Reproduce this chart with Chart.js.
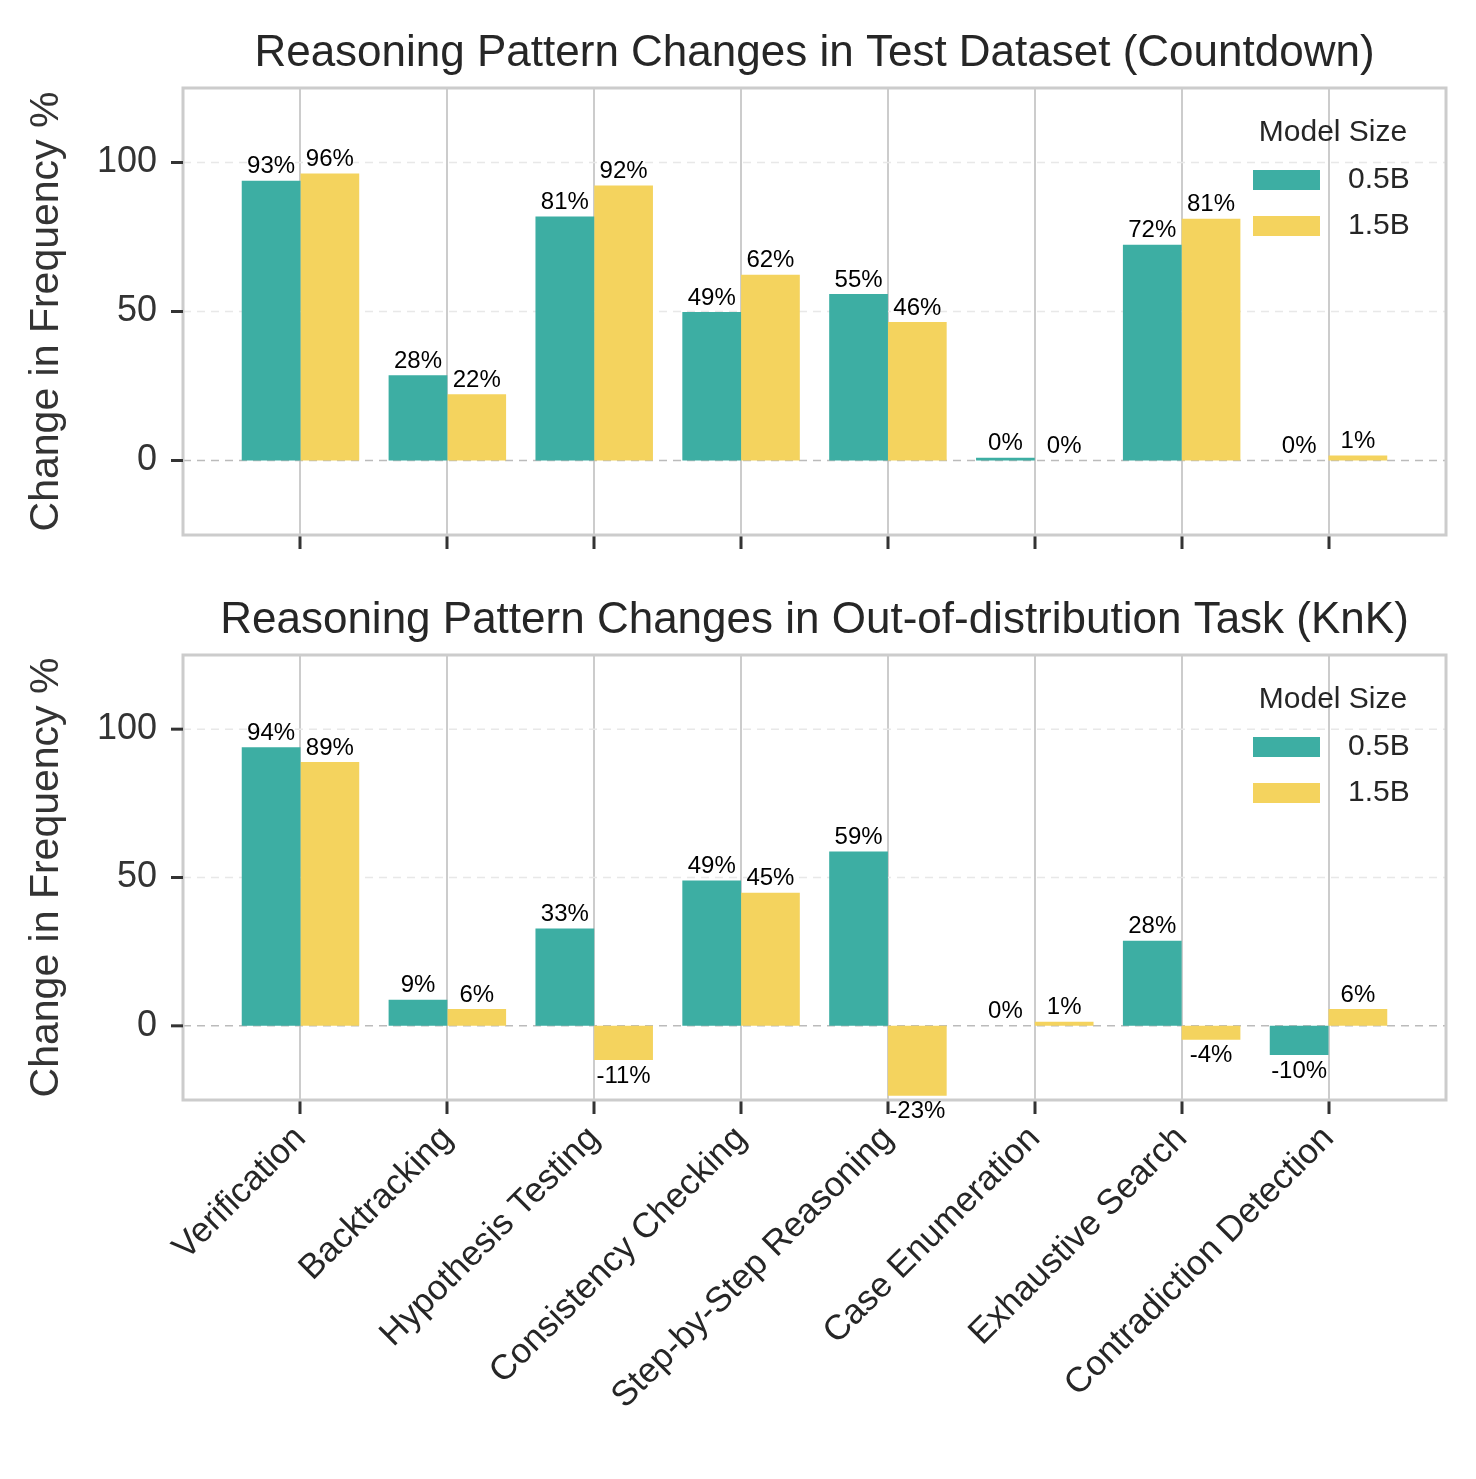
<!DOCTYPE html>
<html><head><meta charset="utf-8">
<script src="https://cdn.jsdelivr.net/npm/chart.js@4/dist/chart.umd.min.js"></script>
<style>
body{margin:0;background:#fff;width:1476px;height:1479px;position:relative;overflow:hidden}
canvas{position:absolute;left:0}
</style></head><body>
<canvas id="top" width="1476" height="570" style="top:0"></canvas>
<canvas id="bot" width="1476" height="909" style="top:570px"></canvas>
<script>
// categories and values
const categories = ['Verification','Backtracking','Hypothesis Testing','Consistency Checking','Step-by-Step Reasoning','Case Enumeration','Exhaustive Search','Contradiction Detection'];
const topSmall = [93.9, 28.6, 81.9, 49.8, 55.9, 0.9, 72.4, 0];
const topLarge = [96.3, 22.2, 92.3, 62.3, 46.5, 0, 81.1, 1.7];
const topSmallLbl = ['93%','28%','81%','49%','55%','0%','72%','0%'];
const topLargeLbl = ['96%','22%','92%','62%','46%','0%','81%','1%'];
const botSmall = [93.9, 8.8, 32.8, 49.0, 58.8, 0, 28.7, -9.8];
const botLarge = [88.9, 5.7, -11.5, 44.9, -23.6, 1.4, -4.7, 5.7];
const botSmallLbl = ['94%','9%','33%','49%','59%','0%','28%','-10%'];
const botLargeLbl = ['89%','6%','-11%','45%','-23%','1%','-4%','6%'];
const yTicks = [0, 50, 100];
const seriesNames = ['0.5B','1.5B'];
const colors = ['#3DAEA3','#F4D35E'];
const FONT = "'Liberation Sans', Arial, sans-serif";

function extras(title, labels){
  return {
    id:'extras',
    beforeDatasetsDraw(c){
      const a=c.chartArea, y=c.scales.y, ctx=c.ctx;
      ctx.save();
      ctx.setLineDash([8,6]); ctx.lineWidth=1.5;
      yTicks.forEach(t=>{
        const py=y.getPixelForValue(t);
        ctx.strokeStyle = t===0 ? '#bbb' : '#e8e8e8';
        ctx.beginPath(); ctx.moveTo(a.left,py); ctx.lineTo(a.right,py); ctx.stroke();
      });
      ctx.restore();
    },
    afterDraw(c){
      const a=c.chartArea, y=c.scales.y, ctx=c.ctx;
      ctx.save();
      ctx.strokeStyle='#ccc'; ctx.lineWidth=3;
      ctx.strokeRect(a.left,a.top,a.right-a.left,a.bottom-a.top);
      ctx.strokeStyle='#333'; ctx.lineWidth=3;
      ctx.fillStyle='#333'; ctx.font='36px '+FONT; ctx.textAlign='right'; ctx.textBaseline='middle';
      yTicks.forEach(t=>{
        const py=y.getPixelForValue(t);
        ctx.beginPath(); ctx.moveTo(a.left-12,py); ctx.lineTo(a.left,py); ctx.stroke();
        ctx.fillText(String(t), a.left-26, py);
      });
      ctx.save();
      ctx.translate(47,(a.top+a.bottom)/2); ctx.rotate(-Math.PI/2);
      ctx.textAlign='center'; ctx.font='41px '+FONT;
      ctx.fillText('Change in Frequency %',0,0);
      ctx.restore();
      ctx.textAlign='center'; ctx.textBaseline='alphabetic'; ctx.font='44px '+FONT; ctx.fillStyle='#262626';
      ctx.fillText(title,(a.left+a.right)/2,a.top-22);
      // value labels
      ctx.font='24px '+FONT; ctx.fillStyle='#000';
      c.data.datasets.forEach((ds,di)=>{
        c.getDatasetMeta(di).data.forEach((bar,i)=>{
          const v=ds.data[i].y;
          if(v<0){ctx.textBaseline='top'; ctx.fillText(labels[di][i],bar.x,bar.y+4);}
          else{ctx.textBaseline='bottom'; ctx.fillText(labels[di][i],bar.x,bar.y-2);}
        });
      });
      // legend
      ctx.fillStyle='#262626'; ctx.textBaseline='middle'; ctx.font='30px '+FONT;
      ctx.textAlign='center'; ctx.fillText('Model Size',1333,a.top+45);
      seriesNames.forEach((n,k)=>{
        const cy=a.top+92+k*46;
        ctx.fillStyle=colors[k]; ctx.fillRect(1253,cy-10,67,20);
        ctx.fillStyle='#262626'; ctx.textAlign='left'; ctx.fillText(n,1348,cy);
      });
      ctx.restore();
    }
  };
}

function makeChart(id, small, large, labels, title, showX, xHeight){
  new Chart(document.getElementById(id), {
    type:'bar',
    data:{datasets:[
      {label:seriesNames[0], data:small.map((v,i)=>({x:i,y:v})), backgroundColor:colors[0]},
      {label:seriesNames[1], data:large.map((v,i)=>({x:i,y:v})), backgroundColor:colors[1]}
    ]},
    options:{
      responsive:false, animation:false,
      categoryPercentage:0.8, barPercentage:1,
      layout:{padding:{top:id==='top'?88:85,right:30,left:0,bottom:0}},
      plugins:{legend:{display:false},tooltip:{enabled:false}},
      scales:{
        x:{type:'linear',min:-0.8,max:7.8,offset:false,
          afterBuildTicks:s=>{s.ticks=categories.map((c,i)=>({value:i}));},
          afterFit:s=>{s.height=xHeight;},
          grid:{offset:false,color:'#cccccc',lineWidth:2,tickColor:'#333',tickLength:14,tickWidth:3},
          border:{display:false},
          ticks:{display:showX,autoSkip:false,minRotation:45,maxRotation:45,padding:4,
            color:'#262626',font:{family:FONT,size:35},callback:v=>categories[v]}},
        y:{min:-25,max:125,
          afterFit:s=>{s.width=183;},
          grid:{display:false},border:{display:false},
          ticks:{display:false}}
      }
    },
    plugins:[extras(title,labels)]
  });
}
makeChart('top',topSmall,topLarge,[topSmallLbl,topLargeLbl],'Reasoning Pattern Changes in Test Dataset (Countdown)',false,35);
makeChart('bot',botSmall,botLarge,[botSmallLbl,botLargeLbl],'Reasoning Pattern Changes in Out-of-distribution Task (KnK)',true,379);
</script>
</body></html>
